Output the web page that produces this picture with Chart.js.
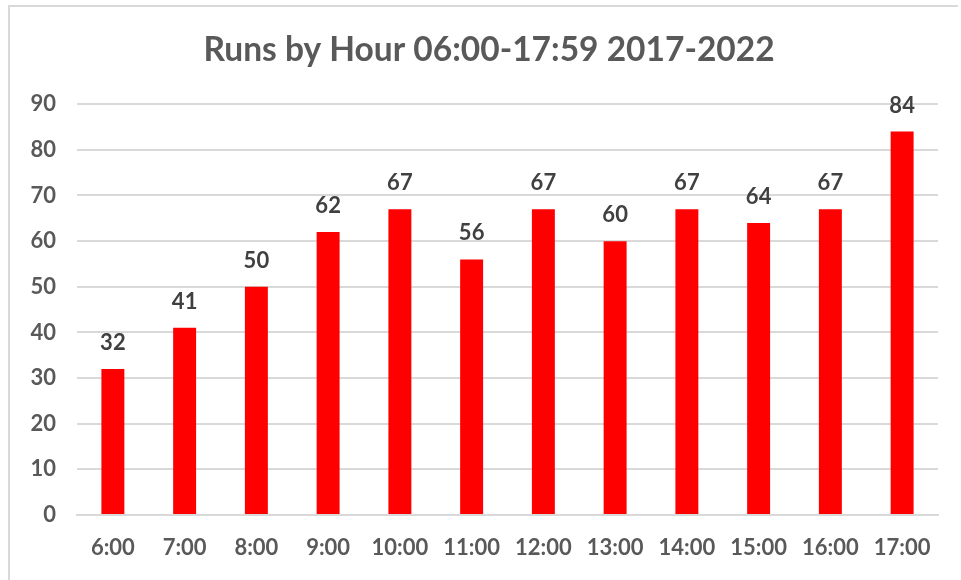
<!DOCTYPE html>
<html><head><meta charset="utf-8">
<script src="https://cdn.jsdelivr.net/npm/chart.js@4/dist/chart.umd.min.js"></script>
<style>
html,body{margin:0;padding:0;background:#fff;}
#wrap{position:relative;width:961px;height:580px;}
#frame{position:absolute;left:8px;top:5px;width:950px;height:580px;border-left:2px solid #d9d9d9;border-top:2px solid #d9d9d9;box-sizing:border-box;pointer-events:none;}
canvas{position:absolute;left:0;top:0;}
</style></head>
<body><div id="wrap"><canvas id="c" width="961" height="580"></canvas><div id="frame"></div></div>
<script>
const categories = ["6:00","7:00","8:00","9:00","10:00","11:00","12:00","13:00","14:00","15:00","16:00","17:00"];
const runs = [32,41,50,62,67,56,67,60,67,64,67,84];
const yTicks = [0,10,20,30,40,50,60,70,80,90];
const titleText = "Runs by Hour 06:00-17:59 2017-2022";

const FONT = "Lato, 'Open Sans', sans-serif";
const labelPlugin = {
  id: 'valueLabels',
  afterLayout(chart) {
    if (chart.titleBlock) { chart.titleBlock.left += 32; }
  },
  afterDatasetsDraw(chart) {
    const ctx = chart.ctx;
    const meta = chart.getDatasetMeta(0);
    ctx.save();
    ctx.font = "bold 22px " + FONT;
    ctx.fillStyle = "#404040";
    ctx.textAlign = "center";
    ctx.textBaseline = "middle";
    meta.data.forEach((bar, i) => {
      ctx.fillText(String(runs[i]), bar.x, bar.y - 26);
    });
    ctx.restore();
  }
};

new Chart(document.getElementById('c'), {
  type: 'bar',
  data: {
    labels: categories,
    datasets: [{ data: runs, backgroundColor: '#ff0000', borderWidth: 0, barPercentage: 0.32, categoryPercentage: 1 }]
  },
  options: {
    responsive: false,
    animation: false,
    layout: { padding: { left: 8, right: 23, top: 0, bottom: 0 } },
    plugins: {
      legend: { display: false },
      tooltip: { enabled: false },
      title: { display: true, text: titleText, color: '#595959', font: { family: FONT, size: 33.5, weight: 'bold' }, padding: { top: 30, bottom: 34 } }
    },
    scales: {
      x: {
        afterFit(scale) { scale.height = 65; },
        grid: { display: false, drawTicks: false },
        border: { display: true, color: '#d9d9d9', width: 2 },
        ticks: { color: '#595959', font: { family: FONT, size: 22, weight: 'bold' }, padding: 20, maxRotation: 0 }
      },
      y: {
        min: 0, max: 90,
        afterBuildTicks(scale) { scale.ticks = yTicks.map(v => ({ value: v })); },
        afterFit(scale) { scale.width = 69; },
        grid: { color: '#d9d9d9', lineWidth: 2, drawTicks: false },
        border: { display: false },
        ticks: { color: '#595959', font: { family: FONT, size: 22, weight: 'bold' }, padding: 21 }
      }
    }
  },
  plugins: [labelPlugin]
});
</script></body></html>
